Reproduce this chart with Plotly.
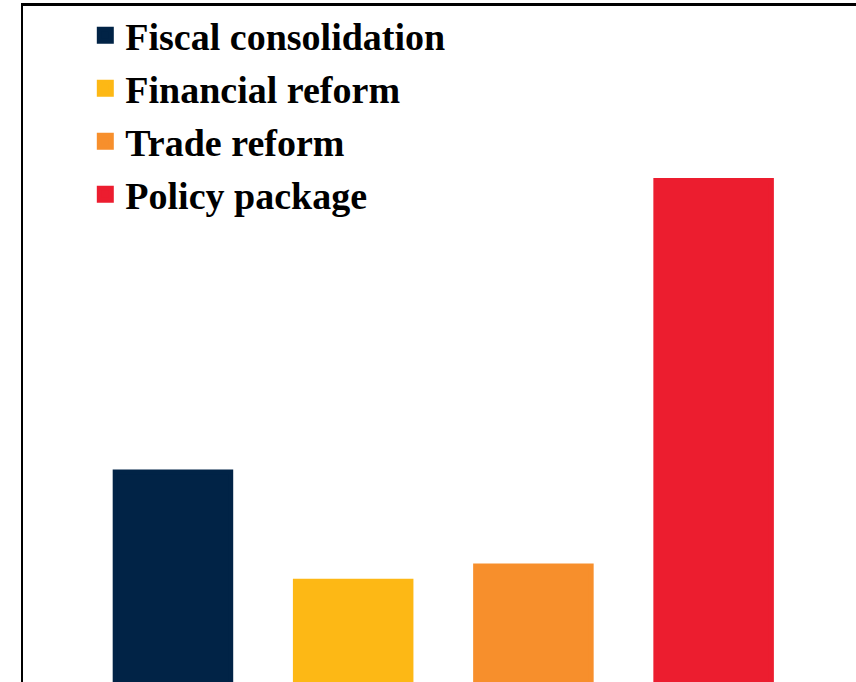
import plotly.graph_objects as go

categories = ["Fiscal consolidation", "Financial reform", "Trade reform", "Policy package"]
values = [1.79, 1.0, 1.11, 3.9]
colors = ["#012346", "#FDB815", "#F78F2C", "#EC1D2F"]
title_text = "(percentage points)"

fig = go.Figure()
for i, (cat, val, col) in enumerate(zip(categories, values, colors)):
    fig.add_trace(go.Bar(
        x=[cat], y=[val], name=cat, legendgroup=cat,
        marker=dict(color=col, line=dict(color=col, width=5)),
        width=0.641,
    ))

FONT = "Liberation Serif"
fig.update_layout(
    width=856, height=682,
    margin=dict(l=23, r=0, t=6, b=0),
    paper_bgcolor="white", plot_bgcolor="white",
    barmode="overlay",
    showlegend=True,
    legend=dict(
        x=0.0748, y=1.003, xanchor="left", yanchor="top",
        font=dict(family=FONT, size=38, color="black", weight="bold"),
        tracegroupgap=0.6, traceorder="grouped",
        bgcolor="rgba(0,0,0,0)",
    ),
    xaxis=dict(
        type="category", categoryorder="array", categoryarray=categories,
        range=[-0.832, 3.79], side="top", showline=True, linecolor="black",
        linewidth=2.5, showticklabels=False, ticks="", showgrid=False,
        zeroline=False, fixedrange=True,
    ),
    yaxis=dict(
        range=[0.271, 5.163], showline=True, linecolor="black", linewidth=1.5,
        showticklabels=False, ticks="", showgrid=False, zeroline=False,
    ),
    annotations=[dict(
        text=title_text, xref="paper", yref="paper", x=0.497, y=1,
        xanchor="center", yanchor="bottom", yshift=3.5, showarrow=False,
        font=dict(family=FONT, size=35, color="black", weight="bold"),
    )],
)

fig.write_html("out.html")
